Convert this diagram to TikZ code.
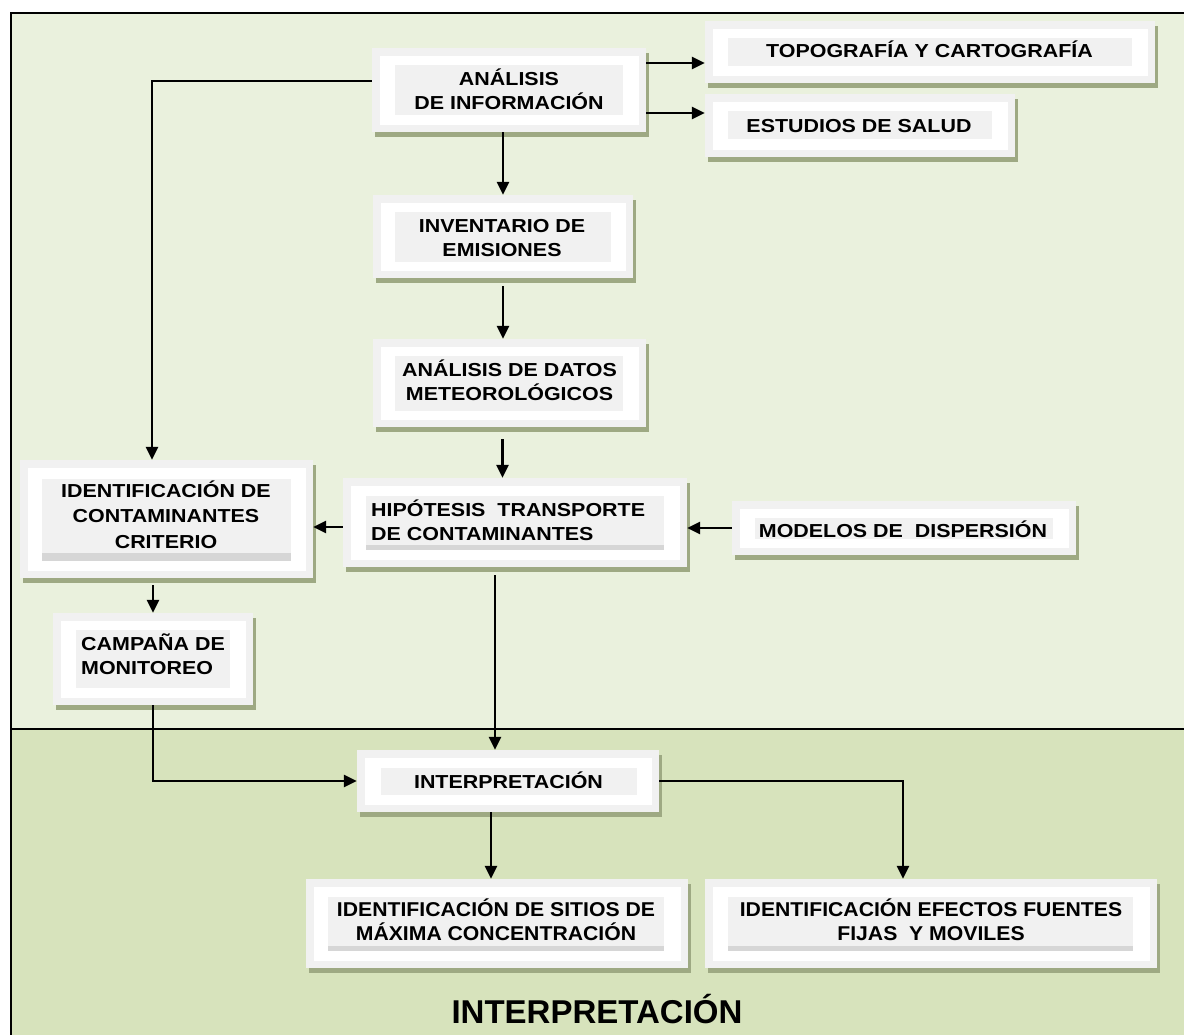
\documentclass[tikz,border=0pt]{standalone}
\usepackage{fontspec}
\setmainfont{Liberation Sans}
\newfontfamily\bxf{Liberation Sans}[FakeStretch=1.14]
\newfontfamily\byf{Liberation Sans}[FakeStretch=1.06]
\usetikzlibrary{arrows.meta,fit,calc}
\definecolor{topbg}{HTML}{EAF1DD}
\definecolor{botbg}{HTML}{D7E3BC}
\definecolor{shadowc}{HTML}{9EA983}
\definecolor{lightc}{HTML}{F1F1F1}
\definecolor{stripc}{HTML}{D6D6D6}
\newcommand\flowbox[9]{%
  \fill[shadowc] (#2+3,#3+5) rectangle (#4+3,#5+5);
  \fill[lightc] (#2,#3) rectangle (#4,#5);
  \fill[white] (#2+7.5,#3+7.5) rectangle (#4-7.5,#5-7.5);
  \fill[lightc] (#6,#7) rectangle (#8,#9);
  \node[fit={(#2,#3) (#4,#5)}, inner sep=0pt] (#1) {};
}
\tikzset{
  lbl/.style={font=\bxf\bfseries\fontsize{18.8}{24}\selectfont, align=center, inner sep=0pt, anchor=base},
  lbly/.style={font=\byf\bfseries\fontsize{20}{24}\selectfont, align=center, inner sep=0pt, anchor=base},
  arr/.style={line width=2.8pt, -{Triangle[length=13pt,width=12pt]}},
}
\begin{document}
\begin{tikzpicture}[x=1pt,y=-1pt]
\fill[white] (0,0) rectangle (1184,1034);
\useasboundingbox (0,0) rectangle (1184,1034);
% background regions
\fill[topbg] (11,13) rectangle (1190,729);
\fill[botbg] (11,729) rectangle (1190,1040);
\draw[line width=2.4pt] (1190,13) -- (11,13) -- (11,1040);
\draw[line width=2.4pt] (11,729) -- (1190,729);

% boxes
\flowbox{ana}{372}{48}{646}{132}{395}{65}{623}{115}
\flowbox{topo}{705}{21}{1155}{83}{728}{38}{1132}{66}
\flowbox{salud}{705}{94}{1015}{157}{728}{111}{992}{139}
\flowbox{inv}{373}{195}{633}{278}{395}{212}{611}{262}
\flowbox{met}{373}{339}{646}{427}{395}{356}{623}{411}
\flowbox{hip}{343}{478}{687}{567}{366}{496}{664}{550}
\fill[stripc] (366,545) rectangle (664,550);
\flowbox{cont}{20}{460}{313}{578}{42}{479}{291}{561}
\fill[stripc] (42,553) rectangle (291,561);
\flowbox{camp}{53}{613}{253}{705}{76}{630}{230}{688}
\flowbox{mod}{732}{501}{1076}{555}{755}{518}{1053}{539}
\flowbox{int}{357}{750}{659}{812}{381}{768}{637}{795}
\flowbox{sit}{306}{879}{688}{968}{328}{897}{664}{951}
\fill[stripc] (328,946) rectangle (664,951);
\flowbox{efe}{705}{879}{1157}{968}{728}{897}{1133}{951}
\fill[stripc] (728,946) rectangle (1133,951);

% texts (multi-line nodes: base = last line)
\node[lbl] (anat) at (509,109) {ANÁLISIS\\DE INFORMACIÓN};
\node[lbl] (topot) at (929.5,57) {TOPOGRAFÍA Y CARTOGRAFÍA};
\node[lbl] (saludt) at (859,132) {ESTUDIOS DE SALUD};
\node[lbl] (invt) at (502,256) {INVENTARIO DE\\EMISIONES};
\node[lbl] (mett) at (509.5,400) {ANÁLISIS DE DATOS\\METEOROLÓGICOS};
\node[lbl, align=left, anchor=base west] (hipt) at (371,540) {HIPÓTESIS~~TRANSPORTE\\DE CONTAMINANTES};
\node[lbl, font=\bxf\bfseries\fontsize{18.8}{25.5}\selectfont] (contt) at (166,548) {IDENTIFICACIÓN DE\\CONTAMINANTES\\CRITERIO};
\node[lbl, align=left, anchor=base west] (campt) at (81,674) {CAMPAÑA DE\\MONITOREO};
\node[lbl] (modt) at (903,537) {MODELOS DE~~DISPERSIÓN};
\node[lbl] (intt) at (508.5,788) {INTERPRETACIÓN};
\node[lbly] (sitt) at (496,940) {IDENTIFICACIÓN DE SITIOS DE\\MÁXIMA CONCENTRACIÓN};
\node[lbly] (efet) at (931,940) {IDENTIFICACIÓN EFECTOS FUENTES\\FIJAS~~Y MOVILES};
\node[font=\bfseries\fontsize{33}{36}\selectfont, inner sep=0pt, anchor=base] (title) at (597,1023) {INTERPRETACIÓN};

% connectors
\draw[arr] ($(ana.west)+(0,-9)$) -| ($(cont.north)+(-14.5,0)$);
\draw[arr] ($(ana.east)+(0,-27)$) -- ($(ana.east -| topo.west)+(0,-27)$);
\draw[arr] ($(ana.east)+(0,23)$) -- ($(ana.east -| salud.west)+(0,23)$);
\draw[arr] (inv.north |- ana.south) -- (inv.north);
\draw[arr, shorten <=8pt] (inv.south) -- (inv.south |- met.north);
\draw[arr, shorten <=12pt] ($(met.south)+(-7,0)$) -- ($(met.south |- hip.north)+(-7,0)$);
\draw[arr] ($(hip.west)+(0,4.5)$) -- ($(hip.west -| cont.east)+(0,4.5)$);
\draw[arr] (mod.west) -- (mod.west -| hip.east);
\draw[arr, shorten <=8pt] ($(hip.south)+(-20,0)$) -- ($(hip.south |- int.north)+(-20,0)$);
\draw[arr, shorten <=7pt] (camp.north |- cont.south) -- (camp.north);
\draw[arr] (camp.south) |- (int.west);
\draw[arr] (int.east) -| ($(efe.north)+(-28,0)$);
\draw[arr] ($(int.south)+(-17,0)$) -- ($(int.south |- sit.north)+(-17,0)$);
\end{tikzpicture}
\end{document}
